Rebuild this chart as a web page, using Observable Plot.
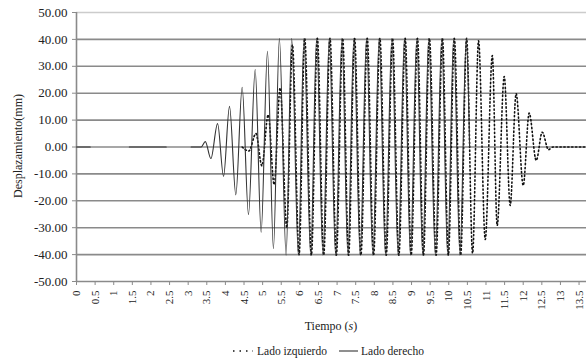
<!DOCTYPE html>
<html><head><meta charset="utf-8">
<script src="https://cdn.jsdelivr.net/npm/d3@7"></script>
<script src="https://cdn.jsdelivr.net/npm/@observablehq/plot@0.6"></script>
<style>
body{margin:0;background:#fff;font-family:"Liberation Serif","DejaVu Serif",serif;}
svg{display:block;}
svg text{font-family:"Liberation Serif","DejaVu Serif",serif !important;}
</style></head><body><div id="chart"></div><script>
const xTicks = [0,0.5,1,1.5,2,2.5,3,3.5,4,4.5,5,5.5,6,6.5,7,7.5,8,8.5,9,9.5,10,10.5,11,11.5,12,12.5,13,13.5];
const yTicks = [-50,-40,-30,-20,-10,0,10,20,30,40,50];
const seriesNames = ["Lado izquierdo", "Lado derecho"];

// Lado derecho (solid): extrema (null = gap)
const derechoT = [0,0.37,0.9,1.42,2.41,2.8,3.08,3.35,
  3.46,3.61,3.79,3.95,4.11,4.28,4.45,4.62,4.80,4.96,5.13,5.29,5.45,5.63,
  5.78,5.96,6.11,6.29,6.45,6.62,6.79,6.96,7.13,7.29,7.45,7.62,7.79,7.96,
  8.13,8.30,8.47,8.64,8.81,8.97,9.14,9.30,9.46,9.64,9.81,9.97,10.13,10.30,10.47,10.56];
const derechoV = [0,0,null,0,0,null,0,0,
  2.0,-4.3,8.7,-10.9,15.1,-17.8,22.2,-25.1,28.8,-31.7,35.6,-37.8,40.4,-40.2,
  40.4,-40.2,40.4,-40.2,40.4,-40.2,40.4,-40.2,40.4,-40.2,40.4,-40.2,40.4,-40.2,
  40.4,-40.2,40.4,-40.2,40.4,-40.2,40.4,-40.2,40.4,-40.2,40.4,-40.2,40.4,-40.2,40.4,0];

// Lado izquierdo (dotted)
const izquierdoT = [4.45,4.63,4.82,4.98,5.15,5.31,5.47,5.65,5.80,5.98,
  6.13,6.31,6.47,6.64,6.81,6.98,7.15,7.31,7.47,7.64,7.81,7.98,8.15,8.32,8.49,8.66,
  8.83,8.99,9.16,9.32,9.48,9.66,9.83,9.99,10.15,10.32,10.48,
  10.64,10.80,10.98,11.17,11.30,11.49,11.65,11.81,12.00,12.16,12.35,12.51,12.68,12.80,13.7];
const izquierdoV = [0,-1.5,5,-7,12,-14,22,-30,38,-40,
  40.4,-40.2,40.4,-40.2,40.4,-40.2,40.4,-40.2,40.4,-40.2,40.4,-40.2,40.4,-40.2,40.4,-40.2,
  40.4,-40.2,40.4,-40.2,40.4,-40.2,40.4,-40.2,40.4,-40.2,40.4,
  -39.5,39.5,-34.4,34,-29.2,26.2,-21.7,19.8,-14.3,12.6,-5,5.5,-1,0,0];

const derecho = derechoT.map((t, i) => ({t, v: derechoV[i]}));
const izquierdo = izquierdoT.map((t, i) => ({t, v: izquierdoV[i]}));

const grid = "#8a8a8a";
const serif = '"Liberation Serif", "DejaVu Serif", serif';
const plot = Plot.plot({
  width: 586, height: 340,
  marginTop: 12, marginBottom: 59, marginLeft: 76, marginRight: 0,
  style: {fontFamily: serif, fontSize: "12px", color: "#222", background: "#fff"},
  x: {domain: [0, 13.7]},
  y: {domain: [-50, 50]},
  marks: [
    Plot.ruleY(yTicks.filter(d => d !== 50), {stroke: grid, strokeWidth: 1.6}),
    Plot.ruleY([50], {stroke: "#cccccc", strokeWidth: 1.5}),
    Plot.ruleX([0], {stroke: grid, strokeWidth: 1.6}),
    Plot.axisY({ticks: yTicks, tickSize: 4, tickPadding: 5, tickFormat: d => d.toFixed(2), label: null, stroke: grid, fontSize: 13}),
    Plot.axisX({ticks: xTicks, tickSize: 4, tickPadding: 5, tickRotate: -90, label: null, tickFormat: d => String(d), stroke: grid, fontSize: 11}),
    Plot.line(izquierdo, {x: "t", y: "v", curve: "monotone-x", stroke: "#111", strokeWidth: 1.6, strokeDasharray: "1.3,2.6"}),
    Plot.line(derecho, {x: "t", y: "v", curve: "monotone-x", stroke: "#333", strokeWidth: 1.1})
  ]
});

const svg = d3.select(plot);
const xt = svg.append("text").attr("x", 331).attr("y", 330).attr("text-anchor", "middle")
  .attr("font-size", 12).attr("fill", "#222");
xt.append("tspan").text("Tiempo (");
xt.append("tspan").attr("font-style", "italic").text("s");
xt.append("tspan").text(")");
svg.append("text").attr("transform", "translate(22,146) rotate(-90)").attr("text-anchor", "middle")
  .attr("font-size", 12).attr("fill", "#222").text("Desplazamiento(mm)");

document.getElementById("chart").appendChild(plot);

// legend
const leg = d3.select("#chart").append("svg").attr("width", 586).attr("height", 22)
  .style("font-size", "11.5px");
leg.append("line").attr("x1", 233).attr("x2", 253).attr("y1", 11).attr("y2", 11)
  .attr("stroke", "#111").attr("stroke-width", 1.6).attr("stroke-dasharray", "1.5,5");
leg.append("text").attr("x", 257).attr("y", 15).attr("fill", "#222").text(seriesNames[0]);
leg.append("line").attr("x1", 339).attr("x2", 358).attr("y1", 11).attr("y2", 11)
  .attr("stroke", "#333").attr("stroke-width", 1.1);
leg.append("text").attr("x", 361).attr("y", 15).attr("fill", "#222").text(seriesNames[1]);
</script></body></html>
